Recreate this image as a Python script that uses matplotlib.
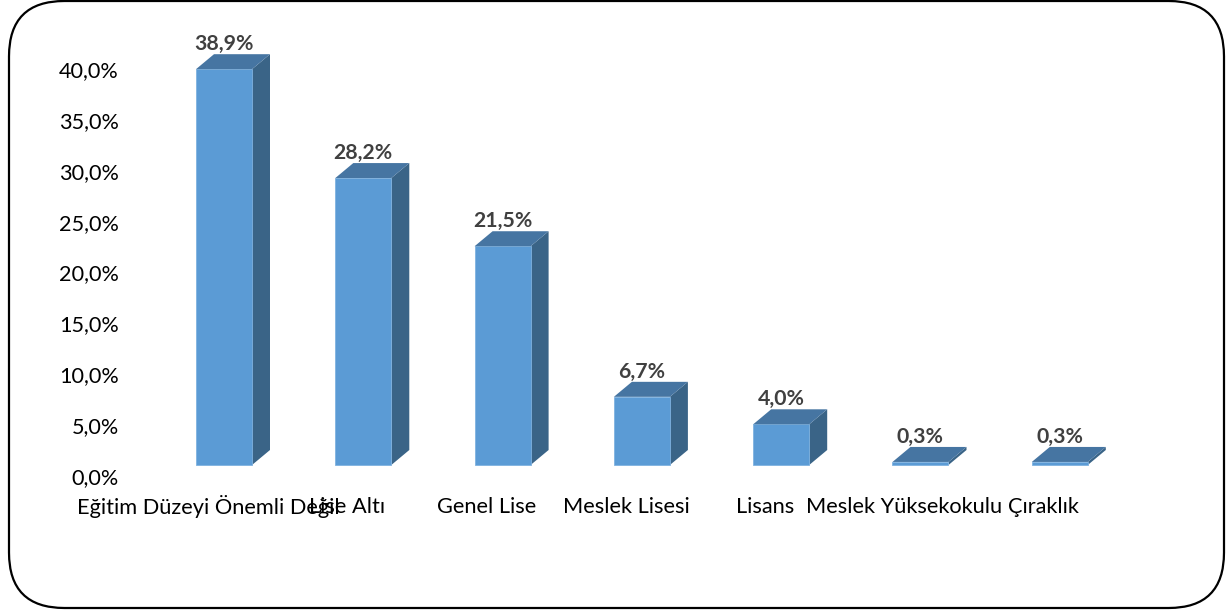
import matplotlib.pyplot as plt
from matplotlib.patches import Polygon, FancyBboxPatch

# --- Dados ---
categorias = ["Eğitim Düzeyi Önemli Değil", "Lise Altı", "Genel Lise", "Meslek Lisesi",
              "Lisans", "Meslek Yüksekokulu", "Çıraklık"]
valores = [38.9, 28.2, 21.5, 6.7, 4.0, 0.3, 0.3]
yticks = [0, 5, 10, 15, 20, 25, 30, 35, 40]

plt.rcParams['font.family'] = ['Lato', 'DejaVu Sans']

W, H = 1231, 612
fig = plt.figure(figsize=(W / 100, H / 100), dpi=100)

# axes placed in pixels: left 130, right 1130, top 40, bottom 560
L, R, T, B = 130, 1130, 40, 560
ax = fig.add_axes([L / W, 1 - B / H, (R - L) / W, (B - T) / H])

step = 139.3          # px per category
ppu = 10.175          # px per 1 %
x0 = 224              # px of first bar centre
y0 = 476              # px of 0 %
ax.set_xlim((L - x0) / step, (R - x0) / step)
ax.set_ylim(-(B - y0) / ppu, (y0 - T) / ppu)

base = 11 / ppu       # front face sits a bit above the floor
largura = 56 / step
dx = 18 / step
dy = 15 / ppu

frente = '#5B9BD5'
topo = '#4675A2'
lado = '#3A6487'

x = list(range(len(valores)))
ax.bar(x, valores, width=largura, bottom=base, color=frente, edgecolor='#7FB2E0',
       linewidth=0.6, zorder=3)

for i, v in enumerate(valores):
    xl, xr = i - largura / 2, i + largura / 2
    top = base + v
    ax.add_patch(Polygon([(xr, base), (xr + dx, base + dy), (xr + dx, top + dy), (xr, top)],
                         closed=True, facecolor=lado, edgecolor='none', zorder=2))
    ax.add_patch(Polygon([(xl, top), (xl + dx, top + dy), (xr + dx, top + dy), (xr, top)],
                         closed=True, facecolor=topo, edgecolor='none', zorder=4))
    ax.text(i, top + 25 / ppu, f"{v:.1f}%".replace('.', ','), ha='center', va='center',
            fontsize=15.3, fontweight='bold', color='#404040', zorder=5)
    ax.text(i - 16 / step, -31 / ppu, categorias[i], ha='center', va='center',
            fontsize=15.7, color='black', zorder=5)

ax.set_yticks(yticks)
ax.set_yticklabels([f"{t:.1f}%".replace('.', ',') for t in yticks], fontsize=15.6)
ax.tick_params(axis='y', length=0, pad=8)
ax.set_xticks([])
for s in ax.spines.values():
    s.set_visible(False)
ax.patch.set_alpha(0)

# moldura arredondada
moldura = FancyBboxPatch((9 / W, 4 / H), 1215 / W, 607 / H,
                         boxstyle="round,pad=0,rounding_size=0.045",
                         transform=fig.transFigure, facecolor='none',
                         edgecolor='black', linewidth=1.6, mutation_aspect=W / H)
fig.patches.append(moldura)

fig.savefig('out.png', dpi=100)
